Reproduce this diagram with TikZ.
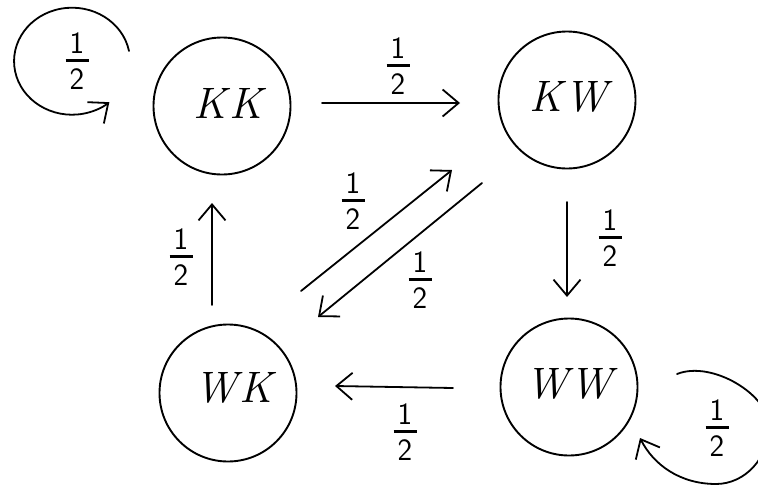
\documentclass[tikz,border=0pt]{standalone}
\usetikzlibrary{arrows.meta,calc}
\newcommand{\hf}{\vbox{\sffamily\offinterlineskip\halign{\hfil##\hfil\cr 1\cr\noalign{\kern6pt}\rule{23pt}{2.6pt}\cr\noalign{\kern7pt}2\cr}}}
\begin{document}
\begin{tikzpicture}[x=1pt,y=-1pt,
  st/.style={draw,circle,line width=1.9pt,minimum size=137pt,inner sep=0pt,font=\fontsize{44}{50}\selectfont\itshape},
  arr/.style={line width=1.8pt,line cap=round,-{Straight Barb[length=16pt,width=27pt,line width=1.8pt]}},
  lab/.style={font=\fontsize{31}{36}\selectfont,inner sep=0pt}]
\useasboundingbox (0,0) rectangle (758,485);
\node[st] (kk) at (222,106) {\kern12pt K\kern3pt K\rule[-6pt]{0pt}{6pt}};
\node[st] (kw) at (567,100) {\kern3pt K\kern2pt W\rule[-8pt]{0pt}{8pt}};
\node[st] (wk) at (228,393) {\kern12pt W\kern2pt K\rule[-12pt]{0pt}{12pt}};
\node[st] (ww) at (569,387) {W\kern2pt W\rule[-8pt]{0pt}{8pt}};
% straight transitions
\draw[arr] ($(kk)+(100,-3)$) -- ($(kw)+(-107,3)$);
\draw[arr] ($(kw)+(0,102)$) -- ($(ww)+(-2,-90)$);
\draw[arr] ($(ww)+(-116,1)$) -- ($(wk)+(107,-7)$);
\draw[arr] ($(wk)+(-16,-88)$) -- ($(kk)+(-10,97)$);
\draw[arr] ($(wk)+(73,-102)$) -- ($(kw)+(-115,70)$);
\draw[arr] ($(kw)+(-85,83)$) -- ($(wk)+(90,-76)$);
% self loops
\coordinate (kks) at ($(kk)+(-93,-55)$);
\draw[arr] (kks) arc[start angle=11,end angle=310,x radius=58pt,y radius=53.5pt];
\coordinate (wws) at ($(ww)+(108,-13)$);
\draw[arr] (wws) .. controls (712,360) and (769,395) .. (769,426)
  .. controls (769,458) and (745,484) .. (716,484)
  .. controls (680,484) and (653.5,464.7) .. (640,438);
% labels
\node[lab] (l1) at (398,66) {\hf};
\node[lab] (l2) at (610,238) {\hf};
\node[lab] (l3) at (405,432) {\hf};
\node[lab] (l4) at (181,257) {\hf};
\node[lab] (l5) at (353,201) {\hf};
\node[lab] (l6) at (420,280) {\hf};
\node[lab] (l7) at (77,61) {\hf};
\node[lab] (l8) at (717,428) {\hf};
\end{tikzpicture}
\end{document}
